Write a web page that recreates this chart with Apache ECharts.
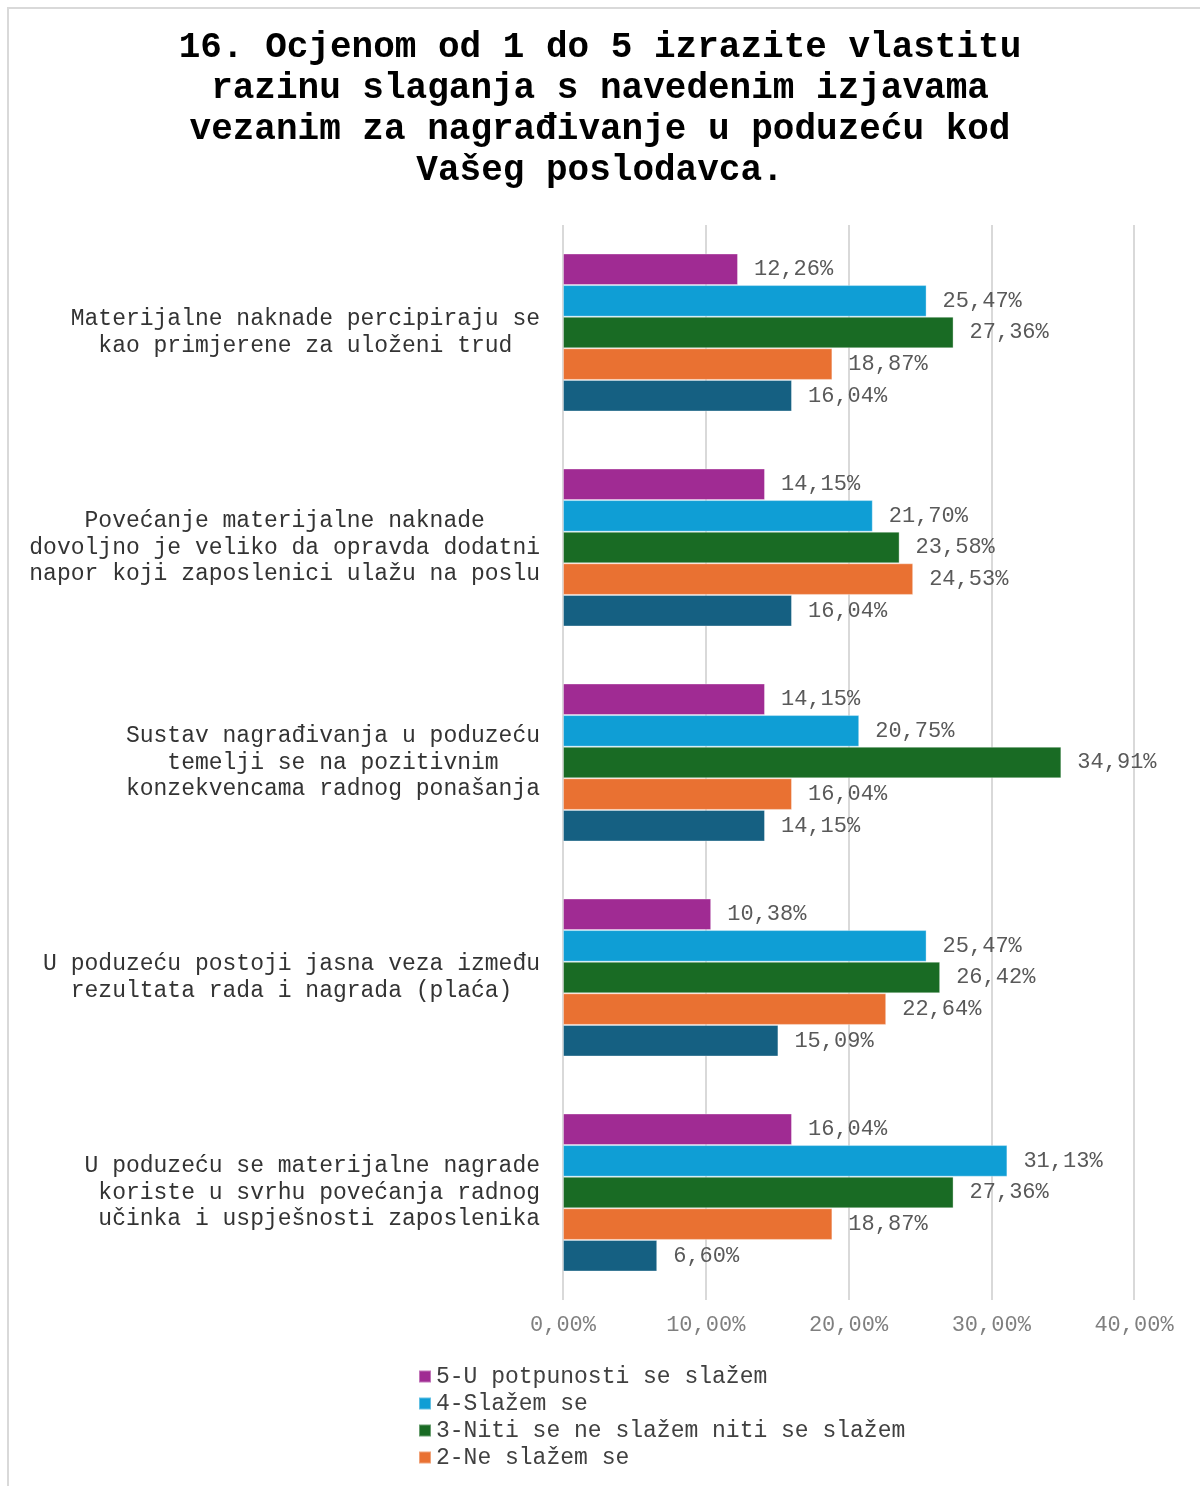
<!DOCTYPE html>
<html>
<head>
<meta charset="utf-8">
<script src="https://cdn.jsdelivr.net/npm/echarts@6/dist/echarts.min.js"></script>
<style>
  html, body { margin: 0; padding: 0; background: #fff; }
  #chart { width: 1200px; height: 1486px; }
</style>
</head>
<body>
<div id="chart"></div>
<script>
// kategorije (izjave), odozgo prema dolje
const categories = [
    'Materijalne naknade percipiraju se\nkao primjerene za uloženi trud',
    'Povećanje materijalne naknade\ndovoljno je veliko da opravda dodatni\nnapor koji zaposlenici ulažu na poslu',
    'Sustav nagrađivanja u poduzeću\ntemelji se na pozitivnim\nkonzekvencama radnog ponašanja',
    'U poduzeću postoji jasna veza između\nrezultata rada i nagrada (plaća)',
    'U poduzeću se materijalne nagrade\nkoriste u svrhu povećanja radnog\nučinka i uspješnosti zaposlenika'
];

// nazivi serija
const seriesNames = [
    '5-U potpunosti se slažem',
    '4-Slažem se',
    '3-Niti se ne slažem niti se slažem',
    '2-Ne slažem se',
    '1-Uopće se ne slažem'
];

// postoci po kategoriji
const ocjena5 = [12.26, 14.15, 14.15, 10.38, 16.04];
const ocjena4 = [25.47, 21.70, 20.75, 25.47, 31.13];
const ocjena3 = [27.36, 23.58, 34.91, 26.42, 27.36];
const ocjena2 = [18.87, 24.53, 16.04, 22.64, 18.87];
const ocjena1 = [16.04, 16.04, 14.15, 15.09, 6.60];

// oznake osi x
const xTicks = [0, 10, 20, 30, 40];

const colors = ['#A02B93', '#0F9ED5', '#196B24', '#E97132', '#156082'];
const values = [ocjena5, ocjena4, ocjena3, ocjena2, ocjena1];
const font = '"Liberation Mono", "Courier New", monospace';

const pct = v => v.toFixed(2).replace('.', ',') + '%';

// centriranje redaka unutar bloka (monospace -> dopuna razmacima)
function centerLines(text) {
    const lines = text.split('\n');
    const max = Math.max(...lines.map(l => l.length));
    return lines.map(l => l + ' '.repeat(Math.floor((max - l.length) / 2))).join('\n');
}

const chart = echarts.init(document.getElementById('chart'));

const option = {
    backgroundColor: '#fff',
    animation: false,
    title: {
        text: '16. Ocjenom od 1 do 5 izrazite vlastitu\nrazinu slaganja s navedenim izjavama\nvezanim za nagrađivanje u poduzeću kod\nVašeg poslodavca.',
        left: 'center',
        top: 22,
        padding: [5, 0, 5, 12],
        textStyle: {
            fontFamily: font,
            fontSize: 36,
            fontWeight: 'bold',
            lineHeight: 41,
            color: '#000'
        }
    },
    graphic: [{
        type: 'rect',
        shape: { x: 8, y: 8, width: 1400, height: 1700 },
        style: { fill: 'none', stroke: '#d9d9d9', lineWidth: 2 },
        silent: true
    }],
    legend: {
        orient: 'vertical',
        left: 413,
        top: 1360,
        itemWidth: 12,
        itemHeight: 12,
        itemGap: 4,
        icon: 'rect',
        data: seriesNames.slice(0, 4),
        textStyle: {
            fontFamily: font,
            fontSize: 23,
            lineHeight: 23,
            color: '#404040'
        }
    },
    grid: {
        left: 563,
        right: 66,
        top: 225,
        bottom: 186,
        containLabel: false
    },
    xAxis: {
        type: 'value',
        min: xTicks[0],
        max: xTicks[xTicks.length - 1],
        interval: 10,
        axisLine: { show: false },
        axisTick: { show: false },
        splitLine: { lineStyle: { color: '#d9d9d9', width: 2 } },
        axisLabel: {
            formatter: v => pct(v),
            fontFamily: font,
            fontSize: 22,
            color: '#7f7f7f',
            margin: 14
        }
    },
    yAxis: {
        type: 'category',
        inverse: true,
        data: categories,
        axisLine: { show: false },
        axisTick: { show: false },
        axisLabel: {
            formatter: v => centerLines(v),
            fontFamily: font,
            fontSize: 23,
            lineHeight: 26.5,
            color: '#333333',
            margin: 23
        }
    },
    series: seriesNames.map((name, i) => ({
        name: name,
        type: 'bar',
        data: values[i],
        barGap: '0%',
        barCategoryGap: '26.5%',
        itemStyle: {
            color: colors[i],
            borderColor: 'rgba(255,255,255,0.35)',
            borderWidth: 1
        },
        label: {
            show: true,
            position: 'right',
            distance: 16,
            formatter: p => pct(p.value),
            fontFamily: font,
            fontSize: 22,
            color: '#595959'
        }
    }))
};

chart.setOption(option);
window.addEventListener('resize', () => chart.resize());
</script>
</body>
</html>
